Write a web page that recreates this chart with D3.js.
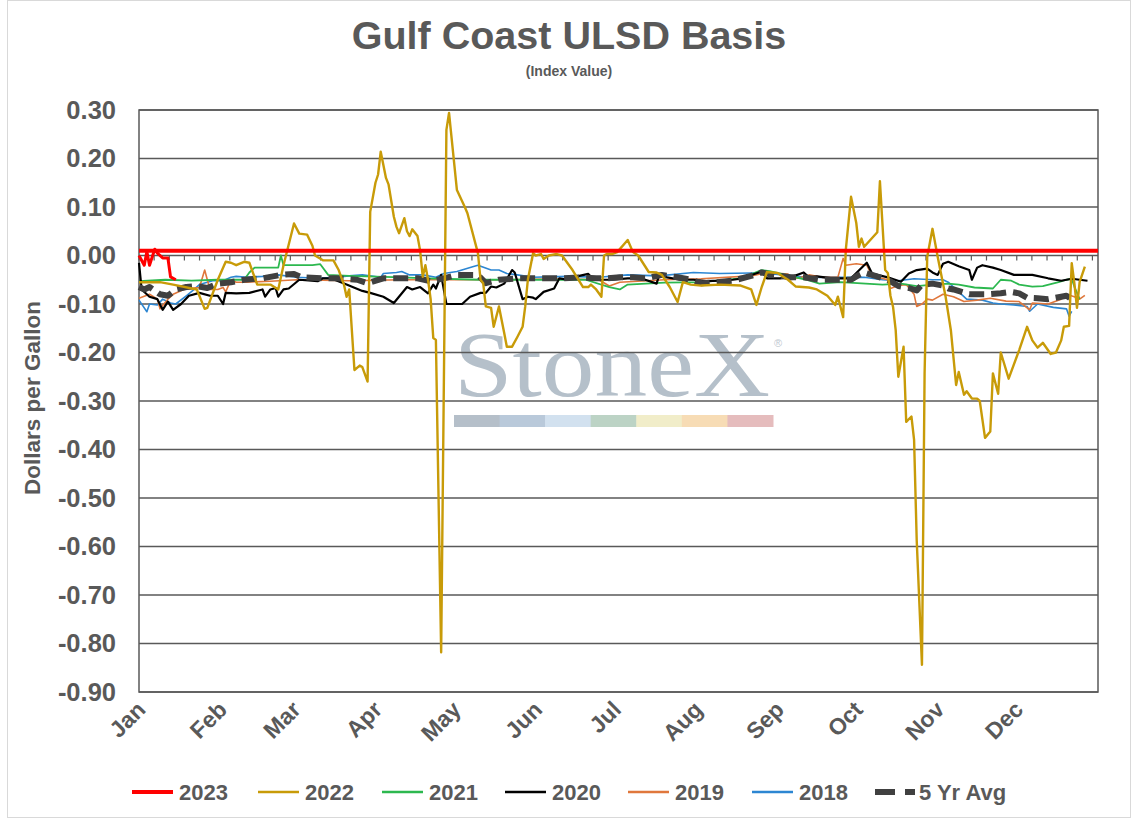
<!DOCTYPE html>
<html>
<head>
<meta charset="utf-8">
<script src="https://cdn.jsdelivr.net/npm/d3@7"></script>
<style>
  html, body { margin: 0; padding: 0; background: #fff; }
  svg { display: block; font-family: "Liberation Sans", Arial, sans-serif; }
</style>
</head>
<body>
<svg id="chart" width="1138" height="818"></svg>
<script>
// ---------- DATA (x = day of year, y = $/gal) ----------
const months = ["Jan","Feb","Mar","Apr","May","Jun","Jul","Aug","Sep","Oct","Nov","Dec"];
const monthStartDay = [0,31,59,90,120,151,181,212,243,273,304,334];
const yTicks = [0.30,0.20,0.10,0.00,-0.10,-0.20,-0.30,-0.40,-0.50,-0.60,-0.70,-0.80,-0.90];
const refLevel2023 = 0.01;

const s2023 = [[0,0.0],[2,-0.02],[3,0.008],[4,-0.02],[6,0.013],[7,0.005],[9,-0.005],[11,-0.005],[12,-0.044],[14,-0.05]];

const s2022 = [[0,-0.055],[8,-0.055],[13,-0.06],[22,-0.07],[25,-0.11],[26,-0.108],[30,-0.05],[33,-0.013],[35,-0.015],[37,-0.02],[40,-0.013],[42,-0.015],[45,-0.06],[50,-0.06],[53,-0.07],[55,-0.02],[59,0.066],[61,0.045],[64,0.043],[66,0.02],[67,0.0],[70,-0.01],[74,-0.01],[76,-0.03],[78,-0.06],[79,-0.085],[80,-0.07],[82,-0.236],[84,-0.227],[85,-0.23],[87,-0.26],[88,0.09],[90,0.15],[91,0.167],[92,0.214],[94,0.16],[95,0.146],[97,0.08],[98,0.059],[99,0.046],[101,0.077],[102,0.05],[103,0.04],[104,0.054],[106,0.04],[107,0.01],[108,-0.044],[109,-0.02],[110,-0.05],[111,-0.09],[112,-0.17],[113,-0.174],[115,-0.818],[117,0.259],[118,0.294],[121,0.135],[124,0.1],[125,0.087],[129,0.005],[130,-0.05],[131,-0.057],[132,-0.105],[134,-0.108],[135,-0.147],[137,-0.105],[139,-0.16],[140,-0.188],[142,-0.188],[144,-0.168],[146,-0.147],[147,-0.105],[148,-0.05],[150,0.005],[151,0.0],[153,0.003],[154,-0.007],[156,0.0],[159,0.003],[161,0.0],[165,-0.03],[169,-0.065],[171,-0.065],[172,-0.06],[174,-0.07],[176,-0.085],[177,0.0],[178,0.003],[180,0.003],[182,0.007],[186,0.032],[188,0.007],[190,0.0],[192,-0.017],[194,-0.034],[197,-0.035],[199,-0.04],[202,-0.065],[205,-0.096],[207,-0.055],[210,-0.06],[214,-0.062],[221,-0.06],[229,-0.062],[233,-0.07],[235,-0.102],[237,-0.065],[239,-0.034],[243,-0.036],[247,-0.05],[250,-0.064],[255,-0.066],[258,-0.07],[262,-0.083],[265,-0.102],[266,-0.085],[268,-0.127],[269,0.011],[271,0.121],[273,0.067],[274,0.018],[275,0.035],[276,0.018],[281,0.048],[282,0.153],[284,-0.03],[285,-0.036],[286,-0.083],[287,-0.106],[288,-0.154],[289,-0.25],[291,-0.188],[292,-0.343],[294,-0.332],[295,-0.38],[296,-0.587],[298,-0.844],[299,-0.243],[300,-0.003],[302,0.055],[304,-0.003],[307,-0.085],[309,-0.154],[311,-0.267],[312,-0.24],[314,-0.287],[315,-0.28],[317,-0.295],[319,-0.295],[320,-0.3],[322,-0.376],[324,-0.363],[325,-0.243],[327,-0.285],[328,-0.2],[331,-0.254],[335,-0.195],[338,-0.147],[340,-0.175],[342,-0.19],[344,-0.18],[347,-0.203],[349,-0.2],[351,-0.175],[352,-0.147],[354,-0.145],[355,-0.016],[356,-0.057],[357,-0.108],[358,-0.055],[360,-0.023]];

const s2021 = [[0,-0.053],[10,-0.05],[20,-0.052],[30,-0.05],[40,-0.05],[42,-0.035],[44,-0.025],[50,-0.025],[53,-0.025],[54,0.0],[55,-0.02],[60,-0.02],[66,-0.02],[69,-0.018],[72,-0.04],[80,-0.042],[100,-0.045],[110,-0.047],[130,-0.05],[150,-0.05],[170,-0.05],[179,-0.065],[183,-0.07],[186,-0.06],[200,-0.056],[214,-0.055],[229,-0.047],[237,-0.03],[240,-0.032],[254,-0.05],[259,-0.058],[267,-0.055],[283,-0.06],[290,-0.058],[296,-0.063],[302,-0.06],[308,-0.058],[312,-0.06],[318,-0.066],[325,-0.068],[328,-0.05],[332,-0.052],[335,-0.06],[340,-0.064],[344,-0.063],[350,-0.055],[353,-0.05],[355,-0.048],[356,-0.064],[358,-0.09]];

const s2020 = [[0,-0.015],[1,-0.07],[4,-0.085],[7,-0.09],[9,-0.112],[11,-0.095],[13,-0.112],[16,-0.1],[19,-0.083],[23,-0.077],[27,-0.083],[30,-0.083],[32,-0.1],[33,-0.077],[37,-0.078],[42,-0.077],[47,-0.07],[48,-0.085],[50,-0.07],[52,-0.067],[53,-0.085],[55,-0.07],[57,-0.068],[61,-0.05],[68,-0.053],[70,-0.047],[73,-0.047],[79,-0.06],[85,-0.073],[88,-0.077],[93,-0.085],[97,-0.098],[102,-0.065],[104,-0.07],[107,-0.065],[110,-0.078],[112,-0.06],[113,-0.068],[115,-0.04],[117,-0.1],[120,-0.1],[123,-0.1],[126,-0.085],[130,-0.077],[132,-0.077],[134,-0.064],[136,-0.066],[139,-0.058],[142,-0.03],[143,-0.035],[146,-0.09],[148,-0.085],[150,-0.087],[151,-0.09],[154,-0.075],[158,-0.068],[160,-0.047],[163,-0.05],[165,-0.045],[171,-0.038],[172,-0.044],[175,-0.05],[180,-0.05],[186,-0.047],[191,-0.047],[197,-0.058],[198,-0.04],[201,-0.045],[206,-0.05],[211,-0.05],[216,-0.053],[221,-0.052],[226,-0.05],[229,-0.048],[237,-0.033],[239,-0.047],[244,-0.047],[249,-0.043],[253,-0.035],[255,-0.045],[258,-0.043],[264,-0.047],[271,-0.047],[276,-0.02],[277,-0.015],[279,-0.037],[285,-0.045],[290,-0.054],[293,-0.037],[296,-0.03],[300,-0.027],[302,-0.035],[304,-0.04],[306,-0.017],[308,-0.013],[312,-0.022],[316,-0.03],[317,-0.05],[319,-0.025],[321,-0.02],[325,-0.025],[328,-0.03],[333,-0.04],[340,-0.04],[346,-0.047],[351,-0.052],[355,-0.048],[361,-0.052]];

const s2019 = [[0,-0.088],[4,-0.08],[7,-0.09],[8,-0.11],[11,-0.09],[13,-0.08],[17,-0.07],[21,-0.067],[23,-0.066],[25,-0.03],[27,-0.07],[30,-0.07],[32,-0.066],[33,-0.075],[35,-0.05],[37,-0.055],[41,-0.055],[50,-0.053],[60,-0.05],[80,-0.052],[100,-0.05],[120,-0.05],[140,-0.05],[160,-0.048],[175,-0.05],[179,-0.063],[183,-0.055],[200,-0.05],[214,-0.048],[233,-0.042],[239,-0.035],[247,-0.038],[248,-0.05],[252,-0.045],[255,-0.04],[260,-0.045],[266,-0.045],[268,-0.006],[269,-0.02],[273,-0.017],[277,-0.02],[279,-0.042],[285,-0.05],[286,-0.068],[289,-0.062],[292,-0.06],[295,-0.08],[296,-0.105],[298,-0.1],[300,-0.09],[302,-0.092],[306,-0.08],[310,-0.085],[314,-0.095],[319,-0.092],[324,-0.088],[330,-0.094],[335,-0.095],[339,-0.112],[340,-0.098],[346,-0.1],[351,-0.09],[353,-0.08],[356,-0.085],[358,-0.09],[360,-0.082]];

const s2018 = [[0,-0.092],[3,-0.116],[4,-0.1],[7,-0.102],[9,-0.09],[12,-0.098],[14,-0.1],[18,-0.083],[21,-0.07],[23,-0.06],[28,-0.052],[32,-0.052],[35,-0.045],[37,-0.043],[41,-0.045],[47,-0.043],[53,-0.04],[60,-0.045],[68,-0.047],[75,-0.045],[80,-0.042],[85,-0.04],[92,-0.045],[93,-0.037],[98,-0.035],[100,-0.033],[103,-0.04],[108,-0.04],[113,-0.045],[116,-0.037],[121,-0.033],[127,-0.023],[129,-0.02],[134,-0.03],[137,-0.03],[140,-0.037],[144,-0.04],[150,-0.045],[163,-0.043],[175,-0.045],[186,-0.04],[198,-0.042],[211,-0.035],[221,-0.037],[233,-0.036],[237,-0.036],[245,-0.04],[254,-0.045],[264,-0.045],[276,-0.045],[283,-0.05],[289,-0.052],[295,-0.048],[302,-0.05],[306,-0.05],[308,-0.055],[310,-0.065],[312,-0.075],[315,-0.09],[321,-0.092],[325,-0.098],[328,-0.1],[333,-0.102],[338,-0.105],[339,-0.115],[342,-0.1],[348,-0.107],[353,-0.11],[354,-0.125],[355,-0.115]];

const s5yr = [[0,-0.065],[2,-0.07],[4,-0.065],[8,-0.08],[11,-0.083],[14,-0.07],[18,-0.065],[22,-0.063],[26,-0.067],[30,-0.058],[35,-0.055],[40,-0.05],[47,-0.047],[54,-0.04],[59,-0.038],[62,-0.045],[70,-0.047],[75,-0.047],[83,-0.05],[87,-0.057],[93,-0.047],[98,-0.047],[106,-0.047],[111,-0.053],[116,-0.047],[121,-0.04],[129,-0.04],[132,-0.057],[137,-0.05],[145,-0.047],[153,-0.047],[161,-0.047],[168,-0.045],[174,-0.047],[178,-0.047],[183,-0.045],[188,-0.045],[193,-0.047],[199,-0.04],[205,-0.045],[210,-0.05],[214,-0.057],[220,-0.055],[226,-0.052],[233,-0.042],[237,-0.035],[241,-0.04],[248,-0.045],[253,-0.045],[259,-0.05],[264,-0.05],[271,-0.05],[274,-0.04],[276,-0.035],[279,-0.04],[282,-0.045],[286,-0.053],[289,-0.063],[293,-0.067],[296,-0.072],[298,-0.06],[302,-0.058],[306,-0.062],[308,-0.068],[310,-0.07],[316,-0.08],[320,-0.08],[323,-0.08],[328,-0.078],[332,-0.075],[335,-0.078],[338,-0.087],[342,-0.088],[346,-0.09],[351,-0.085],[353,-0.083],[355,-0.09]];

const seriesNames = ["2023","2022","2021","2020","2019","2018","5 Yr Avg"];
const seriesColors = ["#ff0000","#c89b08","#2cb84f","#000000","#e0773c","#2c86d2","#404040"];

// ---------- LAYOUT ----------
const svg = d3.select("#chart");
const M = {left: 139, right: 1098, top: 110, bottom: 692};
const x = d3.scaleLinear().domain([0, 365]).range([M.left, M.right]);
const y = d3.scaleLinear().domain([-0.9, 0.3]).range([M.bottom, M.top]);
const textColor = "#595959";

// outer frame
svg.append("rect").attr("x", 7.5).attr("y", 0.5).attr("width", 1123).attr("height", 817)
  .attr("fill", "#fff").attr("stroke", "#d9d9d9").attr("stroke-width", 1);

// title
svg.append("text").attr("x", 569).attr("y", 49).attr("text-anchor", "middle")
  .attr("font-size", 39.5).attr("font-weight", "bold").attr("fill", textColor)
  .text("Gulf Coast ULSD Basis");
svg.append("text").attr("x", 569).attr("y", 76).attr("text-anchor", "middle")
  .attr("font-size", 14).attr("font-weight", "bold").attr("fill", textColor)
  .text("(Index Value)");

// watermark
const wm = svg.append("g").attr("class", "watermark");
wm.append("text").attr("x", 454).attr("y", 396)
  .attr("font-family", "'Liberation Serif', 'DejaVu Serif', serif")
  .attr("font-size", 94).attr("fill", "#b5c0ca").attr("textLength", 316)
  .attr("lengthAdjust", "spacingAndGlyphs").text("StoneX");
wm.append("text").attr("x", 774).attr("y", 347).attr("font-size", 11).attr("fill", "#c0c8d0").text("®");
const wmColors = ["#b5bfc9","#b9c9da","#d2e1ef","#bcd3c5","#f1edc9","#f7dcb5","#e5bcbd"];
const wmBand = d3.scaleBand().domain(d3.range(wmColors.length)).range([454, 773]);
wm.selectAll("rect").data(wmColors).join("rect")
  .attr("x", (d, i) => wmBand(i)).attr("y", 415).attr("width", wmBand.bandwidth() + 0.5).attr("height", 12)
  .attr("fill", d => d);

// gridlines
svg.append("g").selectAll("line").data(yTicks).join("line")
  .attr("x1", M.left).attr("x2", M.right)
  .attr("y1", d => y(d)).attr("y2", d => y(d))
  .attr("stroke", "#595959").attr("stroke-width", 1.5);

// plot frame
svg.append("rect").attr("x", M.left).attr("y", M.top)
  .attr("width", M.right - M.left).attr("height", M.bottom - M.top)
  .attr("fill", "none").attr("stroke", "#595959").attr("stroke-width", 1.5);

// zero axis with minor ticks hanging below
const zeroTicks = d3.range(0, 366, 5.76);
svg.append("g").selectAll("line").data(zeroTicks).join("line")
  .attr("x1", d => x(d)).attr("x2", d => x(d))
  .attr("y1", y(0)).attr("y2", y(0) + 5)
  .attr("stroke", "#595959").attr("stroke-width", 1.2);

// y tick labels
svg.append("g").selectAll("text").data(yTicks).join("text")
  .attr("x", 116).attr("y", d => y(d)).attr("dy", "0.35em")
  .attr("text-anchor", "end").attr("font-size", 25.5).attr("font-weight", "bold")
  .attr("fill", textColor).text(d => d3.format(".2f")(d).replace("−", "-"));

// y axis title
svg.append("text").attr("transform", "translate(40,398) rotate(-90)")
  .attr("text-anchor", "middle").attr("font-size", 22.5).attr("font-weight", "bold")
  .attr("fill", textColor).text("Dollars per Gallon");

// month labels
svg.append("g").selectAll("text").data(months).join("text")
  .attr("transform", (d, i) => `translate(${x(monthStartDay[i]) + 8},${M.bottom + 19}) rotate(-45)`)
  .attr("text-anchor", "end").attr("font-size", 23).attr("font-weight", "bold")
  .attr("fill", textColor).text(d => d);

// series lines
const line = d3.line().x(d => x(d[0])).y(d => y(d[1]));
const plot = svg.append("g");
const draw = (data, color, width, dash) => {
  const p = plot.append("path").datum(data).attr("d", line)
    .attr("fill", "none").attr("stroke", color).attr("stroke-width", width)
    .attr("stroke-linejoin", "round");
  if (dash) p.attr("stroke-dasharray", dash);
};
draw(s2018, seriesColors[5], 1.6);
draw(s2019, seriesColors[4], 1.6);
draw(s2021, seriesColors[2], 1.8);
draw(s2020, seriesColors[3], 2.2);
draw(s5yr, seriesColors[6], 6, "15,7");
draw(s2022, seriesColors[1], 2.4);
// 2023 reference level and series
plot.append("line").attr("x1", M.left).attr("x2", M.right)
  .attr("y1", y(refLevel2023)).attr("y2", y(refLevel2023))
  .attr("stroke", seriesColors[0]).attr("stroke-width", 4);
draw(s2023, seriesColors[0], 3);

// legend
const legendX = [132, 258, 382, 505, 628, 752, 875];
const legend = svg.append("g").attr("transform", "translate(0,792)");
seriesNames.forEach((name, i) => {
  const g = legend.append("g").attr("transform", `translate(${legendX[i]},0)`);
  if (i === 6) {
    g.append("line").attr("x1", 0).attr("x2", 20).attr("y1", 0).attr("y2", 0)
      .attr("stroke", seriesColors[i]).attr("stroke-width", 6);
    g.append("line").attr("x1", 30).attr("x2", 40).attr("y1", 0).attr("y2", 0)
      .attr("stroke", seriesColors[i]).attr("stroke-width", 6);
    g.append("text").attr("x", 44).attr("y", 0).attr("dy", "0.35em")
      .attr("font-size", 22).attr("font-weight", "bold").attr("fill", textColor).text(name);
  } else {
    g.append("line").attr("x1", 0).attr("x2", 41).attr("y1", 0).attr("y2", 0)
      .attr("stroke", seriesColors[i]).attr("stroke-width", i === 0 ? 4 : 2.5);
    g.append("text").attr("x", 47).attr("y", 0).attr("dy", "0.35em")
      .attr("font-size", 22).attr("font-weight", "bold").attr("fill", textColor).text(name);
  }
});
</script>
</body>
</html>
